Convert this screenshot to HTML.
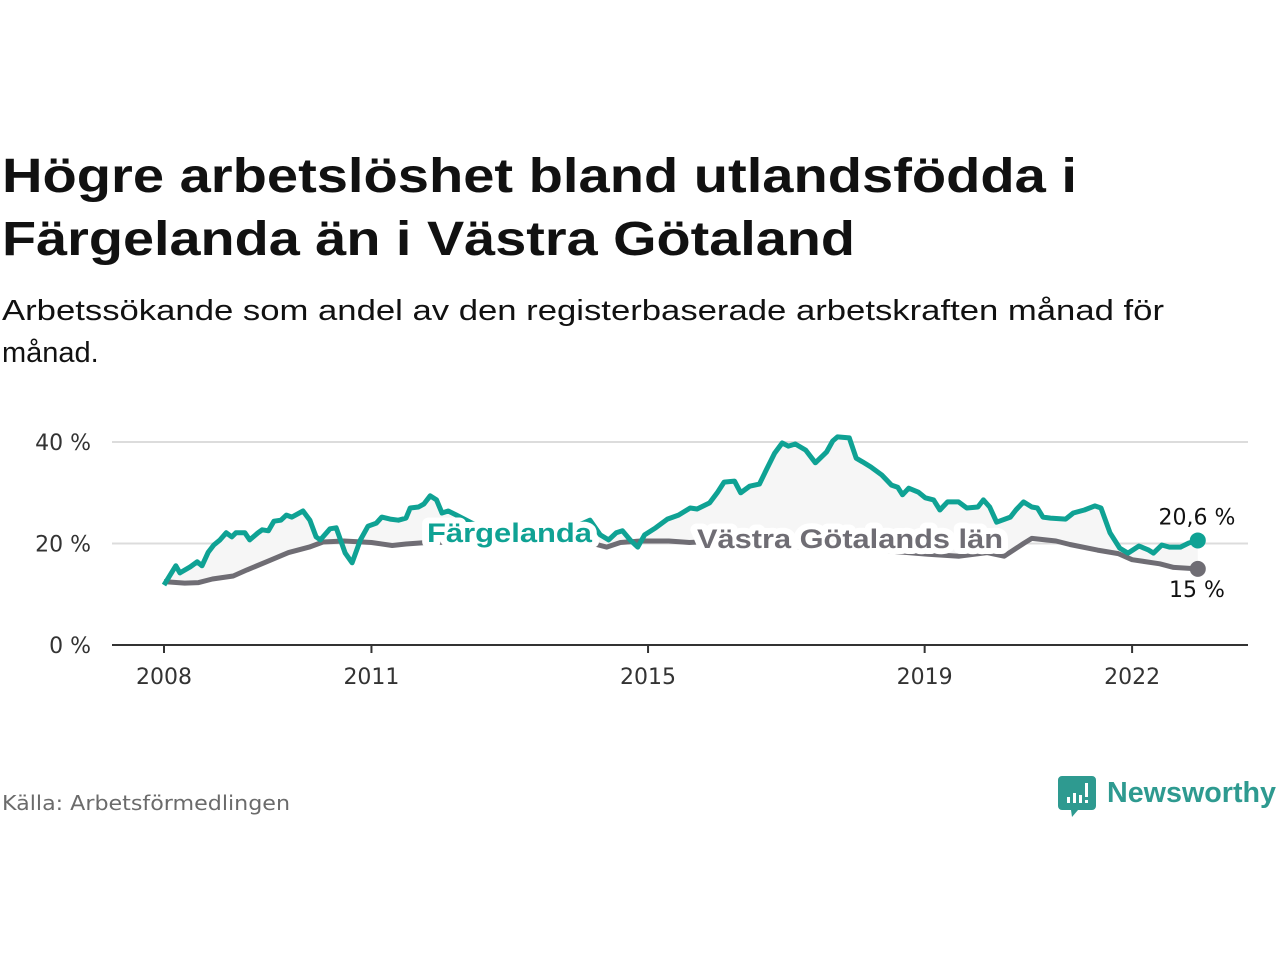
<!DOCTYPE html>
<html><head><meta charset="utf-8"><style>
body{margin:0;background:#fff;width:1280px;height:960px;overflow:hidden;font-family:"Liberation Sans",sans-serif}
</style></head><body>
<svg width="1280" height="960" xmlns="http://www.w3.org/2000/svg">
<text x="2" y="192" font-size="48" font-weight="bold" fill="#111" textLength="1075" lengthAdjust="spacingAndGlyphs">Högre arbetslöshet bland utlandsfödda i</text>
<text x="2" y="255" font-size="48" font-weight="bold" fill="#111" textLength="853" lengthAdjust="spacingAndGlyphs">Färgelanda än i Västra Götaland</text>
<text x="2" y="320" font-size="29" fill="#111" textLength="1162" lengthAdjust="spacingAndGlyphs">Arbetssökande som andel av den registerbaserade arbetskraften månad för</text>
<text x="2" y="362" font-size="29" fill="#111">månad.</text>
<g id="chart"></g>
<text x="2" y="810" font-size="20" fill="#6b6b6b" font-family="DejaVu Sans, sans-serif" textLength="288" lengthAdjust="spacingAndGlyphs">Källa: Arbetsförmedlingen</text>
<g>
<path d="M1062 776 h30 a4 4 0 0 1 4 4 v26 a4 4 0 0 1 -4 4 h-14 l-6 7 l-1 -7 h-9 a4 4 0 0 1 -4 -4 v-26 a4 4 0 0 1 4 -4z" fill="#2e9a90"/>
<rect x="1067" y="797" width="3" height="6" fill="#fff"/><rect x="1073" y="793" width="3" height="10" fill="#fff"/><rect x="1079" y="795" width="3" height="8" fill="#fff"/><rect x="1085" y="783" width="3" height="14" fill="#fff"/><rect x="1085" y="800" width="3" height="3" fill="#fff"/>
<text x="1107" y="802" font-size="29" fill="#2e9a90" font-weight="bold" textLength="169" lengthAdjust="spacingAndGlyphs">Newsworthy</text>
</g>
</svg>
<script>
const gTimes=[2008.00,2008.17,2008.23,2008.38,2008.48,2008.55,2008.64,2008.72,2008.81,2008.90,2008.98,2009.04,2009.17,2009.24,2009.36,2009.42,2009.51,2009.59,2009.69,2009.77,2009.85,2010.01,2010.11,2010.20,2010.26,2010.40,2010.49,2010.62,2010.72,2010.84,2010.95,2011.07,2011.15,2011.27,2011.39,2011.50,2011.56,2011.68,2011.76,2011.85,2011.94,2012.02,2012.11,2012.23,2012.6,2013.0,2013.5,2013.9,2014.16,2014.31,2014.43,2014.54,2014.63,2014.74,2014.85,2014.95,2015.11,2015.28,2015.44,2015.61,2015.71,2015.89,2016.00,2016.10,2016.25,2016.34,2016.47,2016.61,2016.71,2016.83,2016.94,2017.03,2017.13,2017.28,2017.42,2017.58,2017.67,2017.74,2017.91,2018.01,2018.10,2018.22,2018.38,2018.52,2018.61,2018.68,2018.77,2018.91,2019.01,2019.13,2019.22,2019.33,2019.49,2019.61,2019.77,2019.85,2019.94,2020.04,2020.24,2020.32,2020.43,2020.55,2020.63,2020.71,2020.82,2021.04,2021.15,2021.31,2021.46,2021.55,2021.68,2021.82,2021.94,2022.10,2022.24,2022.31,2022.43,2022.54,2022.70,2022.82,2022.95];
const gValues=[11.8,15.6,14.2,15.4,16.4,15.6,18.3,19.7,20.7,22.1,21.3,22.1,22.1,20.7,22.1,22.7,22.5,24.4,24.6,25.6,25.2,26.4,24.6,21.3,20.7,22.9,23.1,18.1,16.2,20.7,23.4,24.0,25.2,24.8,24.6,25.0,27.0,27.2,27.8,29.4,28.6,26.0,26.4,25.6,23.0,22.0,22.5,23.0,24.6,21.7,20.7,22.1,22.5,20.7,19.3,21.7,23.1,24.8,25.6,27.0,26.8,28.0,30.0,32.1,32.3,30.0,31.3,31.7,34.5,37.8,39.8,39.2,39.6,38.4,35.9,38.0,40.2,41.0,40.8,36.8,36.1,35.1,33.5,31.5,31.1,29.6,30.9,30.1,29.0,28.6,26.6,28.2,28.2,27.0,27.2,28.6,27.2,24.2,25.2,26.6,28.2,27.2,27.0,25.2,25.0,24.8,26.0,26.6,27.4,27.0,22.1,19.1,18.1,19.5,18.7,18.1,19.7,19.3,19.3,20.1,20.6];
const rTimes=[2008.0,2008.3,2008.5,2008.7,2009.0,2009.2,2009.5,2009.8,2010.1,2010.3,2010.6,2011.0,2011.3,2011.5,2011.8,2012.3,2013.0,2014.0,2014.2,2014.4,2014.6,2014.9,2015.3,2015.6,2016.0,2016.5,2017.5,2018.5,2019.05,2019.5,2019.9,2020.15,2020.43,2020.55,2020.9,2021.1,2021.5,2021.8,2022.0,2022.4,2022.6,2022.95];
const rValues=[12.5,12.2,12.3,13.0,13.6,14.8,16.5,18.2,19.3,20.3,20.5,20.2,19.6,19.9,20.2,20.3,20.3,20.8,20.0,19.3,20.2,20.5,20.5,20.2,20.5,20.0,19.0,18.5,17.9,17.5,18.2,17.5,20.0,21.0,20.5,19.8,18.7,18.0,16.8,16.0,15.3,15.0];
const yTicks=[0,20,40];
const yTickLabels=["0 %","20 %","40 %"];
const xTicks=[2008,2011,2015,2019,2022];
const xTickLabels=["2008","2011","2015","2019","2022"];
const NS="http://www.w3.org/2000/svg";
const X=t=>164+(t-2008)*69.15;
const Y=v=>645-v*5.075;
const FONT2="DejaVu Sans, sans-serif";
const chart=document.getElementById('chart');
function mk(tag,attrs){const e=document.createElementNS(NS,tag);for(const k in attrs)e.setAttribute(k,attrs[k]);chart.appendChild(e);return e;}
yTicks.forEach((v,i)=>{
  if(v>0){const l=mk('line',{x1:112,x2:1248,y1:Y(v),y2:Y(v),stroke:'#dcdcdc','stroke-width':2});
  
  }
  const t=mk('text',{x:91,y:Y(v)+8,'font-size':22,'font-family':FONT2,fill:'#333','text-anchor':'end'});t.textContent=yTickLabels[i];
  
  
});
const ax=mk('line',{x1:112,x2:1248,y1:645,y2:645,stroke:'#333','stroke-width':2});


xTicks.forEach((v,i)=>{
  const tk=mk('line',{x1:X(v),x2:X(v),y1:645,y2:653,stroke:'#333','stroke-width':2});
  
  
  const t=mk('text',{x:X(v),y:684,'font-size':22,'font-family':FONT2,fill:'#333','text-anchor':'middle'});t.textContent=xTickLabels[i];
  
  
});
const gp=gTimes.map((t,i)=>X(t).toFixed(1)+','+Y(gValues[i]).toFixed(1));
const rp=rTimes.map((t,i)=>X(t).toFixed(1)+','+Y(rValues[i]).toFixed(1));
const area=mk('polygon',{points:gp.concat(rp.slice().reverse()).join(' '),fill:'#f6f6f6'});


const rl=mk('polyline',{points:rp.join(' '),fill:'none',stroke:'#6f6d74','stroke-width':5,'stroke-linejoin':'round'});


const gl=mk('polyline',{points:gp.join(' '),fill:'none',stroke:'#0fa294','stroke-width':5,'stroke-linejoin':'round'});


const lastG=gValues[gValues.length-1],lastR=rValues[rValues.length-1];
const d1=mk('circle',{cx:X(gTimes[gTimes.length-1]),cy:Y(lastG),r:8,fill:'#0fa294'});


const d2=mk('circle',{cx:X(rTimes[rTimes.length-1]),cy:Y(lastR),r:8,fill:'#6f6d74'});


const v1=mk('text',{x:1197,y:Y(lastG)-16,'font-size':22,'font-family':FONT2,fill:'#111','text-anchor':'middle'});v1.textContent=String(lastG).replace('.',',')+' %';


const v2=mk('text',{x:1197,y:Y(lastR)+28,'font-size':22,'font-family':FONT2,fill:'#111','text-anchor':'middle'});v2.textContent=String(lastR).replace('.',',')+' %';


function lab(x,y,w,txt,col,name){
  const h=mk('text',{x:x,y:y,'font-size':27,'font-weight':'bold',fill:'#fff',stroke:'#fff','stroke-width':12,'stroke-linejoin':'round',textLength:w,lengthAdjust:'spacingAndGlyphs'});h.textContent=txt;
  
  
  const t=mk('text',{x:x,y:y,'font-size':27,'font-weight':'bold',fill:col,textLength:w,lengthAdjust:'spacingAndGlyphs'});t.textContent=txt;
  
  
}
lab(427,542,165,'Färgelanda','#0fa294','fargelanda-label');
lab(697,548,306,'Västra Götalands län','#6f6d74','vastra-gotaland-label');
</script>
</body></html>
